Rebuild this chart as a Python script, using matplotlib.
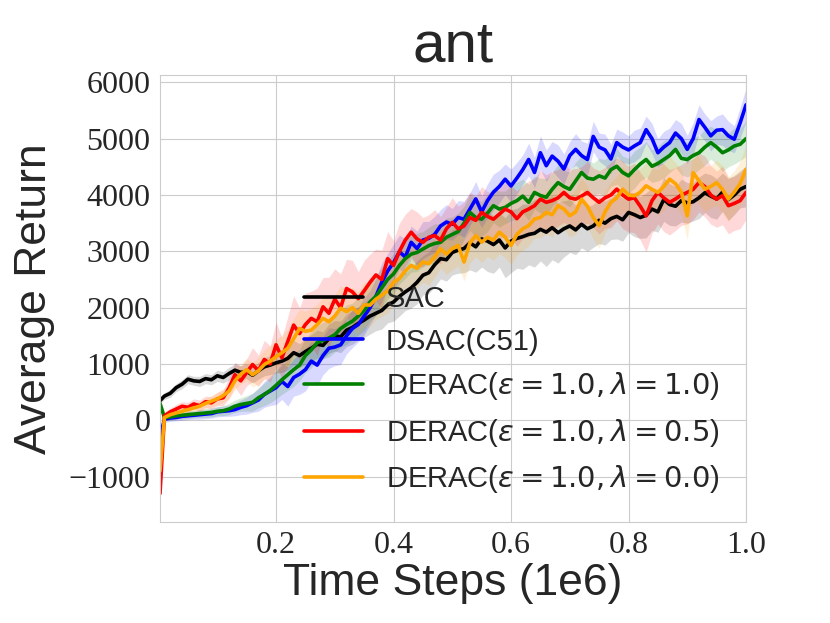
import matplotlib
matplotlib.use('Agg')
import matplotlib.pyplot as plt
import numpy as np
import seaborn as sns

# time steps in units of 1e6: first logged point, then every 10k steps
steps = [0.0025] + [i / 100 for i in range(1, 101)]

labels = ['SAC', 'DSAC(C51)',
          r'DERAC($\varepsilon=1.0, \lambda=1.0$)',
          r'DERAC($\varepsilon=1.0, \lambda=0.5$)',
          r'DERAC($\varepsilon=1.0, \lambda=0.0$)']
colors = ['black', 'blue', 'green', 'red', 'orange']

sac = [350, 430, 480, 580, 640, 730, 700, 690, 740, 720, 790,
       760, 830, 890, 850, 870, 800, 880, 950, 980, 1020,
       1050, 1100, 1200, 1150, 1220, 1280, 1350, 1330, 1450, 1500,
       1480, 1600, 1650, 1720, 1780, 1850, 1900, 1950, 2050, 2100,
       2200, 2280, 2350, 2450, 2575, 2620, 2760, 2870, 2850, 2980,
       3020, 3050, 3150, 3080, 3220, 3180, 3120, 3200, 3060, 3180,
       3230, 3260, 3300, 3320, 3390, 3340, 3420, 3330, 3400, 3450,
       3380, 3480, 3400, 3450, 3550, 3500, 3580, 3620, 3560, 3690,
       3650, 3600, 3640, 3750, 3700, 3920, 3830, 3800, 3900, 3860,
       3880, 3950, 4040, 3980, 3930, 4050, 3920, 4000, 4100, 4150]
sac_std = [60, 60, 70, 70, 80, 80, 80, 90, 90, 90, 100,
           100, 110, 110, 120, 130, 140, 150, 160, 170, 180,
           200, 210, 220, 210, 230, 240, 250, 240, 260, 270,
           280, 290, 300, 290, 310, 320, 310, 330, 320, 340,
           350, 330, 360, 380, 350, 370, 390, 360, 380, 400,
           410, 430, 480, 450, 500, 540, 510, 480, 530, 560,
           530, 580, 540, 600, 560, 610, 570, 540, 500, 470,
           440, 420, 400, 380, 410, 390, 370, 400, 380, 360,
           390, 370, 400, 380, 360, 390, 370, 350, 380, 360,
           340, 370, 350, 380, 360, 340, 370, 350, 330, 360]

dsac = [-300, 20, 40, 50, 70, 80, 90, 100, 110, 120, 150,
        160, 170, 190, 230, 260, 310, 360, 460, 520, 580,
        690, 600, 760, 820, 900, 1050, 980, 1150, 1280, 1300,
        1340, 1500, 1630, 1700, 1850, 2000, 2200, 2450, 2650, 2800,
        2990, 2900, 3160, 3050, 3200, 3230, 3300, 3450, 3520, 3480,
        3600, 3570, 3750, 3930, 3700, 3900, 4050, 4150, 4280, 4160,
        4300, 4450, 4630, 4400, 4750, 4520, 4690, 4600, 4460, 4700,
        4810, 4700, 4630, 5040, 4850, 4800, 4640, 4930, 4850, 4800,
        4870, 4930, 5160, 5000, 4750, 4850, 4930, 5100, 5000, 4810,
        5000, 5340, 5200, 5050, 5150, 5160, 5050, 4990, 5280, 5600]
dsac_std = [80, 60, 60, 60, 70, 70, 70, 80, 80, 80, 90,
            90, 100, 110, 130, 150, 170, 200, 230, 260, 300,
            320, 350, 330, 360, 380, 350, 370, 340, 360, 330,
            350, 320, 340, 310, 330, 300, 320, 340, 310, 330,
            300, 320, 290, 310, 330, 300, 320, 290, 310, 280,
            300, 320, 290, 310, 280, 300, 320, 290, 270, 300,
            280, 260, 290, 270, 300, 280, 260, 290, 270, 250,
            280, 260, 290, 270, 250, 280, 260, 240, 270, 250,
            280, 260, 240, 270, 250, 280, 260, 240, 270, 250,
            280, 260, 240, 270, 250, 280, 260, 240, 270, 300]

derac_10 = [300, 50, 60, 80, 90, 100, 110, 120, 130, 140, 160,
            170, 200, 250, 280, 300, 320, 400, 460, 530, 620,
            720, 810, 900, 980, 1150, 1250, 1380, 1420, 1460, 1520,
            1630, 1700, 1760, 1850, 1950, 2100, 2200, 2350, 2500, 2600,
            2750, 2870, 2950, 2980, 3040, 3100, 3140, 3160, 3250, 3300,
            3350, 3500, 3690, 3600, 3570, 3680, 3810, 3750, 3780, 3850,
            3900, 3980, 3870, 4045, 3990, 3960, 4100, 4220, 4150, 4100,
            4250, 4400, 4300, 4280, 4340, 4300, 4450, 4510, 4400, 4340,
            4450, 4550, 4630, 4510, 4560, 4630, 4700, 4810, 4650, 4630,
            4700, 4750, 4850, 4930, 4850, 4750, 4800, 4870, 4900, 5000]
derac_10_std = [80, 60, 60, 60, 70, 70, 70, 70, 80, 80, 80,
                90, 100, 110, 120, 140, 160, 180, 200, 220, 240,
                260, 280, 300, 280, 300, 320, 300, 320, 340, 310,
                330, 350, 320, 340, 360, 330, 350, 370, 340, 360,
                330, 350, 320, 340, 310, 330, 350, 320, 340, 310,
                330, 300, 320, 340, 310, 330, 300, 320, 290, 310,
                330, 300, 320, 290, 310, 330, 300, 320, 290, 310,
                330, 300, 320, 290, 310, 330, 300, 320, 290, 310,
                330, 300, 320, 290, 310, 330, 300, 320, 290, 310,
                330, 300, 320, 290, 310, 330, 300, 320, 290, 310]

derac_05 = [-1300, 80, 150, 200, 250, 230, 290, 260, 330, 310, 380,
            400, 570, 810, 700, 850, 990, 880, 1080, 1000, 1340,
            1110, 1400, 1690, 1540, 1700, 1810, 1750, 2015, 1900, 2150,
            2000, 2340, 2280, 2160, 2300, 2450, 2580, 2500, 2870, 2750,
            3000, 3200, 3340, 3220, 3160, 3250, 3280, 3200, 3400, 3515,
            3400, 3450, 3600, 3550, 3690, 3620, 3570, 3660, 3750, 3700,
            3580, 3700, 3750, 3810, 3926, 3870, 3900, 3950, 4045, 3950,
            3926, 3980, 4045, 3950, 3870, 3950, 4000, 4104, 4000, 3926,
            3950, 3800, 3630, 3900, 4045, 3950, 3870, 3930, 4000, 4045,
            4100, 4220, 4150, 4000, 3926, 3990, 3810, 3850, 3900, 4045]
derac_05_std = [100, 70, 70, 80, 80, 90, 90, 100, 100, 110, 120,
                140, 180, 220, 260, 240, 300, 280, 340, 320, 400,
                360, 440, 520, 460, 560, 480, 600, 520, 640, 540,
                600, 520, 560, 480, 540, 500, 460, 520, 480, 440,
                500, 460, 420, 480, 440, 400, 460, 420, 380, 440,
                400, 420, 450, 430, 460, 440, 470, 450, 480, 460,
                490, 470, 500, 480, 510, 490, 520, 500, 530, 510,
                540, 520, 550, 530, 560, 540, 580, 560, 600, 580,
                620, 600, 640, 580, 560, 600, 580, 560, 540, 560,
                540, 520, 540, 520, 500, 520, 500, 480, 500, 480]

derac_00 = [-900, 50, 100, 130, 160, 190, 220, 250, 300, 340, 380,
            440, 520, 700, 820, 900, 810, 880, 990, 1050, 1130,
            1200, 1280, 1450, 1630, 1580, 1600, 1700, 1810, 1750, 1850,
            1990, 1930, 2000, 1900, 2050, 2045, 2150, 2220, 2300, 2450,
            2520, 2650, 2750, 2700, 2810, 2780, 2900, 3044, 2950, 3050,
            3103, 2810, 3150, 3280, 3162, 3250, 3200, 3340, 3250, 3103,
            3300, 3400, 3456, 3574, 3600, 3692, 3650, 3810, 3750, 3632,
            3700, 3926, 3800, 3600, 3456, 3700, 3868, 3950, 4104, 4000,
            3986, 4050, 4163, 4100, 4045, 4150, 4280, 4200, 4050, 3632,
            4397, 4250, 4104, 4150, 4220, 4100, 3926, 4050, 4200, 4455]
derac_00_std = [90, 60, 60, 70, 70, 80, 80, 90, 90, 100, 110,
                120, 140, 160, 180, 200, 220, 240, 260, 280, 300,
                320, 340, 360, 340, 360, 380, 360, 380, 400, 380,
                400, 380, 360, 380, 400, 380, 360, 380, 400, 380,
                360, 380, 360, 340, 360, 380, 360, 340, 360, 380,
                360, 340, 360, 380, 360, 340, 360, 380, 360, 340,
                360, 380, 360, 340, 360, 380, 400, 380, 360, 380,
                400, 380, 360, 380, 400, 380, 360, 380, 400, 380,
                400, 420, 400, 380, 400, 420, 400, 380, 400, 420,
                400, 420, 400, 380, 400, 420, 400, 380, 400, 420]

means = [sac, dsac, derac_10, derac_05, derac_00]
stds = [sac_std, dsac_std, derac_10_std, derac_05_std, derac_00_std]

sns.set_style('whitegrid')
plt.rcParams['font.family'] = ['Liberation Sans', 'DejaVu Sans']

fig = plt.figure(figsize=(8.3, 6.23), dpi=100)
ax = fig.add_axes([0.1928, 0.1626, 0.706, 0.717])

x = np.array(steps)
for m, s, c, lab in zip(means, stds, colors, labels):
    m = np.array(m, dtype=float)
    s = np.array(s, dtype=float)
    ax.plot(x, m, color=c, lw=2.6, label=lab)
    ax.fill_between(x, m - s, m + s, color=c, alpha=0.15, lw=0)

ax.set_xlim(0.0025, 1.0)
ax.set_ylim(-1800, 6130)
ax.set_xticks([0.2, 0.4, 0.6, 0.8, 1.0])
ax.set_yticks([-1000, 0, 1000, 2000, 3000, 4000, 5000, 6000])
for t in ax.get_xticklabels() + ax.get_yticklabels():
    t.set_fontfamily('Liberation Serif')
    t.set_fontsize(23)

ax.set_title('ant', fontsize=42, pad=10)
ax.set_xlabel('Time Steps (1e6)', fontsize=32, labelpad=2)
ax.set_ylabel('Average Return', fontsize=32, labelpad=10)
ax.legend(loc='lower right', frameon=False, fontsize=21)

fig.savefig('out.png', dpi=100)
